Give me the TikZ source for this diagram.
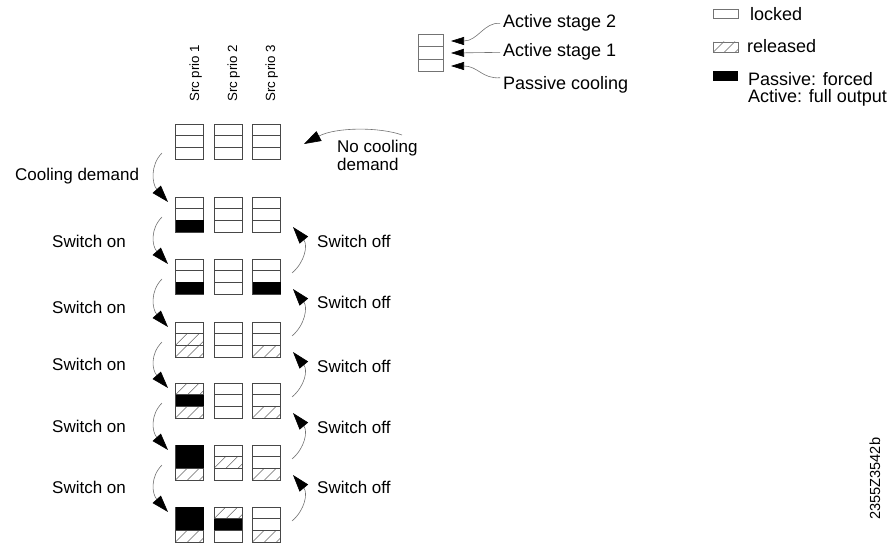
\documentclass[tikz,border=0pt]{standalone}
\usepackage{fontspec}
\setmainfont{Liberation Sans}
\usetikzlibrary{arrows.meta}
\tikzset{
  cellbox/.style={draw=black!72, line width=0.8pt},
  legbox/.style={draw=black!55, line width=0.8pt},
  hatchline/.style={draw=black!60, line width=0.55pt},
  conn/.style={draw=black!55, line width=0.6pt, -{Triangle[length=17pt,width=11pt,color=black]}},
  legconn/.style={draw=black!55, line width=0.6pt, -{Triangle[length=13pt,width=8pt,color=black]}},
  lbl/.style={inner sep=0pt, anchor=base west, font=\fontsize{17}{18}\selectfont},
  leg/.style={inner sep=0pt, anchor=base west, font=\fontsize{18}{17.5}\selectfont},
  hdr/.style={inner sep=0pt, anchor=base west, rotate=90, font=\fontsize{13.3}{14}\selectfont},
}
% empty box with three sections, top-left (x,y)
\newcommand\ebox[2]{\draw[cellbox] (#1,#2) rectangle ++(28,35) (#1,{#2+35/3}) -- ++(28,0) (#1,{#2+70/3}) -- ++(28,0);}
% hatched section: x, ytop, section index
\newcommand\hsec[3]{%
  \begin{scope}
    \clip (#1,{#2+#3*35/3}) rectangle ++(28,{35/3});
    \foreach \d in {-12,0,12,24}{\draw[hatchline] ({#1+\d},{#2+(#3+1)*35/3}) -- ++(13,-13);}
  \end{scope}}
% black sections: x, ytop, first section, number of sections
\newcommand\bsec[4]{\fill[black] (#1,{#2+#3*35/3}) rectangle ++(28,{#4*35/3});}
\begin{document}
\begin{tikzpicture}[x=1pt,y=-1pt]
\useasboundingbox (0,0) rectangle (896,548);

% ---- hatching (under the outlines)
\hsec{175.5}{322}{1}\hsec{175.5}{322}{2}\hsec{252.5}{322}{2}
\hsec{175.5}{383}{0}\hsec{175.5}{383}{2}\hsec{252.5}{383}{2}
\hsec{175.5}{445}{2}\hsec{214}{445}{1}\hsec{252.5}{445}{2}
\hsec{175.5}{507}{2}\hsec{214}{507}{0}\hsec{252.5}{507}{2}

% ---- boxes
\foreach \yy in {124,197,259,322,383,445,507}{
  \foreach \xx in {175.5,214,252.5}{\ebox{\xx}{\yy}}}

% ---- black sections
\bsec{175.5}{197}{2}{1}
\bsec{175.5}{259}{2}{1}\bsec{252.5}{259}{2}{1}
\bsec{175.5}{383}{1}{1}
\bsec{175.5}{445}{0}{2}
\bsec{175.5}{507}{0}{2}\bsec{214}{507}{1}{1}

% ---- column headers
\node[hdr] (h1) at (199,102) {Src prio 1};
\node[hdr] (h2) at (237,102) {Src prio 2};
\node[hdr] (h3) at (275,102) {Src prio 3};

% ---- legend: stage box
\draw[legbox] (418,34.3) rectangle (443,71.8) (418,46.8) -- (443,46.8) (418,59.3) -- (443,59.3);
\node[leg] (as2) at (503,28) {Active stage 2};
\node[leg] (as1) at (503,57) {Active stage 1};
\node[leg] (pc) at (503,90) {Passive cooling};
\coordinate (lt2) at (451,41);
\coordinate (lt1) at (451,53);
\coordinate (lt0) at (451,66);
\draw[legconn] ([xshift=-3pt]as2.west) .. controls (484,22) and (478,41) .. (lt2);
\draw[legconn] ([xshift=-3pt]as1.west) -- (lt1);
\draw[legconn] ([xshift=-3pt,yshift=-1pt]pc.north west) .. controls (482,79) and (478,66) .. (lt0);

% ---- legend: states
\draw[legbox] (713,9) rectangle (738,18.5);
\node[leg] (lk) at (750,21) {locked};
\begin{scope}
  \clip (713,42) rectangle (738,52.5);
  \foreach \d in {-11,0,11,22}{\draw[hatchline] ({713+\d},52.5) -- ++(11,-11);}
\end{scope}
\draw[legbox] (713,42) rectangle (738,52.5);
\node[leg] (rl) at (747,53) {released};
\fill[black] (713,71.5) rectangle (738,81.5);
\node[leg, anchor=north west, align=left] (pf) at (748,72) {Passive: forced\\Active: full output};

% ---- labels
\node[lbl] (cd) at (15,181) {Cooling demand};
\node[lbl, anchor=north west, align=left] (ncd) at (337,140) {No cooling\\demand};
\foreach \b [count=\i] in {247,313,370,432,493}{\node[lbl] (on\i) at (52,\b) {Switch on};}
\foreach \b [count=\i] in {247,308,372,433,493}{\node[lbl] (off\i) at (317,\b) {Switch off};}

% ---- connectors
\coordinate (cds) at (162,153);
\coordinate (cde) at (168,202);
\draw[conn] (cds) .. controls +(-12,12) and +(-16,-18) .. (cde);
\coordinate (ncs) at (402,135);
\coordinate (nce) at (304,144);
\draw[conn] (ncs) .. controls (380,127) and (336,127) .. (nce);
\foreach \a/\c [count=\i] in {197/259,259/322,322/383,383/445,445/507}{
  \coordinate (ons\i) at (162,\a+20);
  \coordinate (one\i) at (168,\c+5);
  \draw[conn] (ons\i) .. controls +(-12,12) and +(-16,-18) .. (one\i);
  \coordinate (offs\i) at (292,\c+14);
  \coordinate (offe\i) at (293,\a+30);
  \draw[conn] (offs\i) .. controls +(13,-11) and +(15,18) .. (offe\i);
}

% ---- drawing number
\node[hdr, font=\fontsize{14.6}{15}\selectfont] (code) at (880,520) {2355Z3542b};
\end{tikzpicture}
\end{document}
